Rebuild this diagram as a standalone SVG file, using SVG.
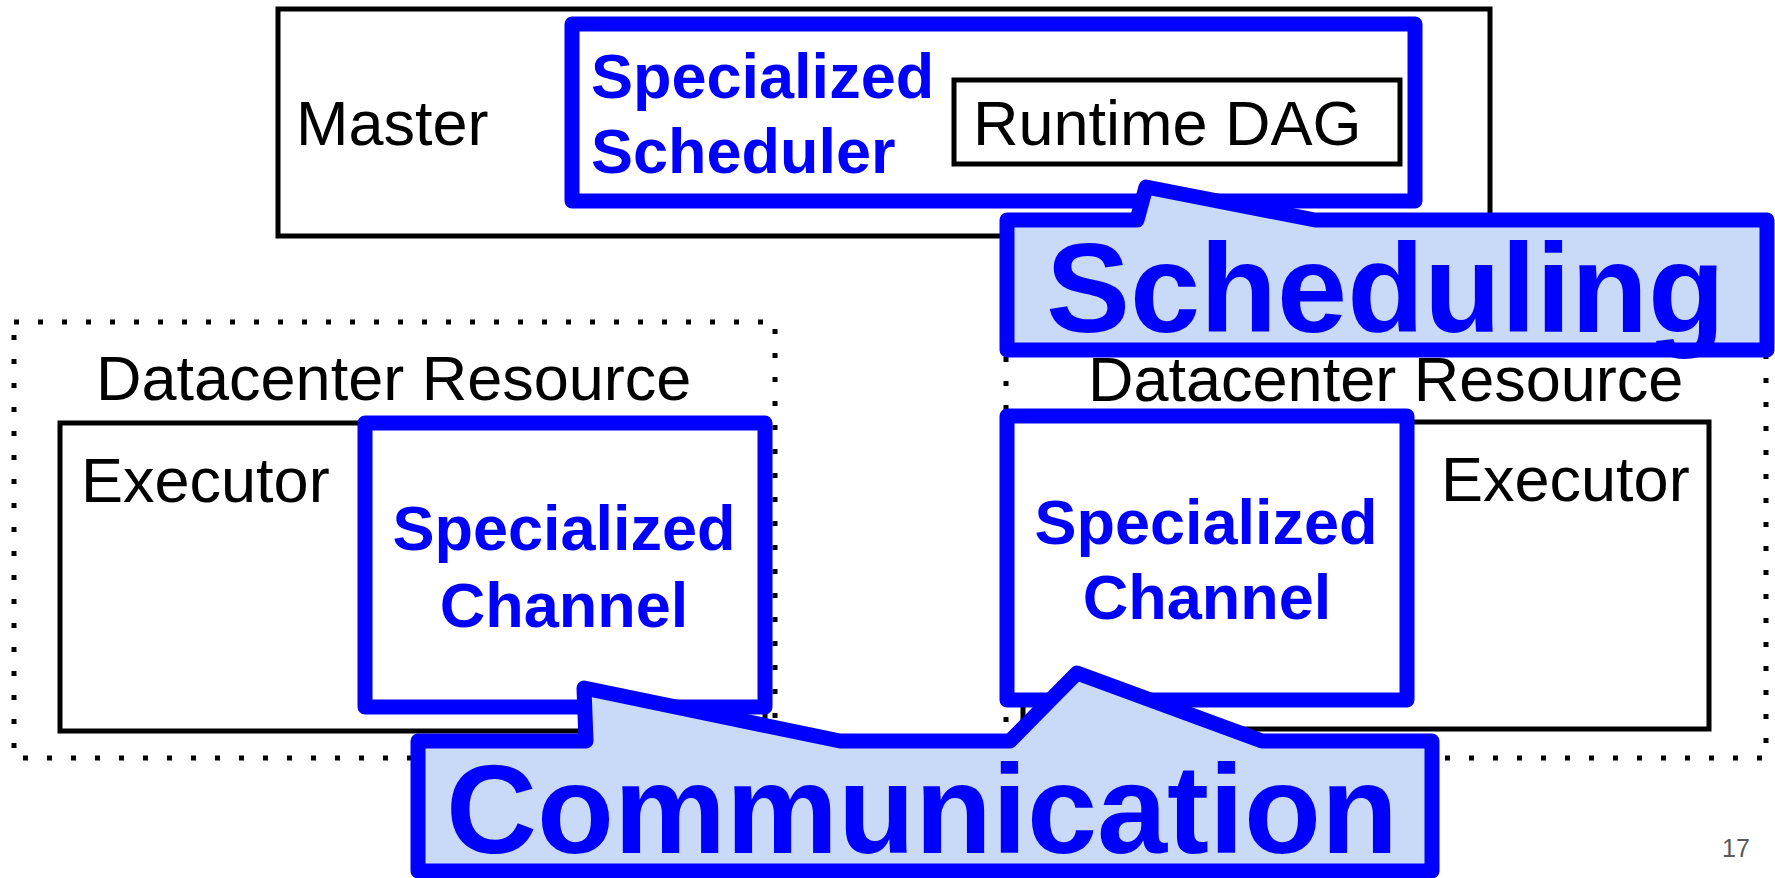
<svg xmlns="http://www.w3.org/2000/svg" width="1775" height="878" viewBox="0 0 1775 878">
<style>
text{font-family:"Liberation Sans",Arial,sans-serif;font-size:63px}
.n{fill:#000}
.b{fill:#0000ff;font-weight:bold}
.big{font-size:126px}
.dot{fill:none;stroke:#000;stroke-width:5;stroke-dasharray:5 19}
.blk{fill:#fff;stroke:#000;stroke-width:5}
.blu{fill:#fff;stroke:#0000ff;stroke-width:15;stroke-linejoin:round}
.call{fill:#c9daf8;stroke:#0000ff;stroke-width:15;stroke-linejoin:round}
</style>
<rect width="1775" height="878" fill="#fff"/>
<g id="dc-left">
<rect class="dot" x="14" y="322" width="761" height="436"/>
<text class="n" x="96" y="400">Datacenter Resource</text>
</g>
<g id="dc-right">
<rect class="dot" x="1006" y="322" width="760" height="436"/>
<text class="n" x="1088" y="401">Datacenter Resource</text>
</g>
<g id="executor-left">
<rect class="blk" x="60" y="423" width="705" height="308"/>
<text class="n" x="81" y="502">Executor</text>
</g>
<g id="executor-right">
<rect class="blk" x="1023" y="422" width="686" height="307"/>
<text class="n" x="1441" y="501">Executor</text>
</g>
<g id="channel-left">
<rect class="blu" x="365" y="423" width="400" height="284"/>
<text class="b" x="564" y="550" text-anchor="middle">Specialized</text>
<text class="b" x="564" y="627" text-anchor="middle">Channel</text>
</g>
<g id="channel-right">
<rect class="blu" x="1007" y="416" width="400" height="284"/>
<text class="b" x="1206" y="544" text-anchor="middle">Specialized</text>
<text class="b" x="1207" y="619" text-anchor="middle">Channel</text>
</g>
<g id="master">
<rect class="blk" x="278" y="9" width="1212" height="227"/>
<text class="n" x="296" y="145">Master</text>
</g>
<g id="scheduler">
<rect class="blu" x="572" y="24" width="843" height="177"/>
<text class="b" x="591" y="98">Specialized</text>
<text class="b" x="591" y="173">Scheduler</text>
</g>
<g id="runtime-dag">
<rect class="blk" x="954" y="80" width="446" height="84"/>
<text class="n" x="973" y="145">Runtime DAG</text>
</g>
<g id="connectors"></g>
<g id="scheduling-callout">
<path class="call" d="M1007,220 H1137 L1146,187 L1315,220 H1767 V350 H1007 Z"/>
<text class="b big" x="1046" y="332">Scheduling</text>
</g>
<g id="communication-callout">
<path class="call" d="M418,741 H586 L584,688 L840,741 H1010 L1077,673 L1262,741 H1432 V871 H418 Z"/>
<text class="b big" x="446" y="853">Communication</text>
</g>
<text x="1722" y="857" style="font-size:25px;fill:#595959">17</text>
</svg>
